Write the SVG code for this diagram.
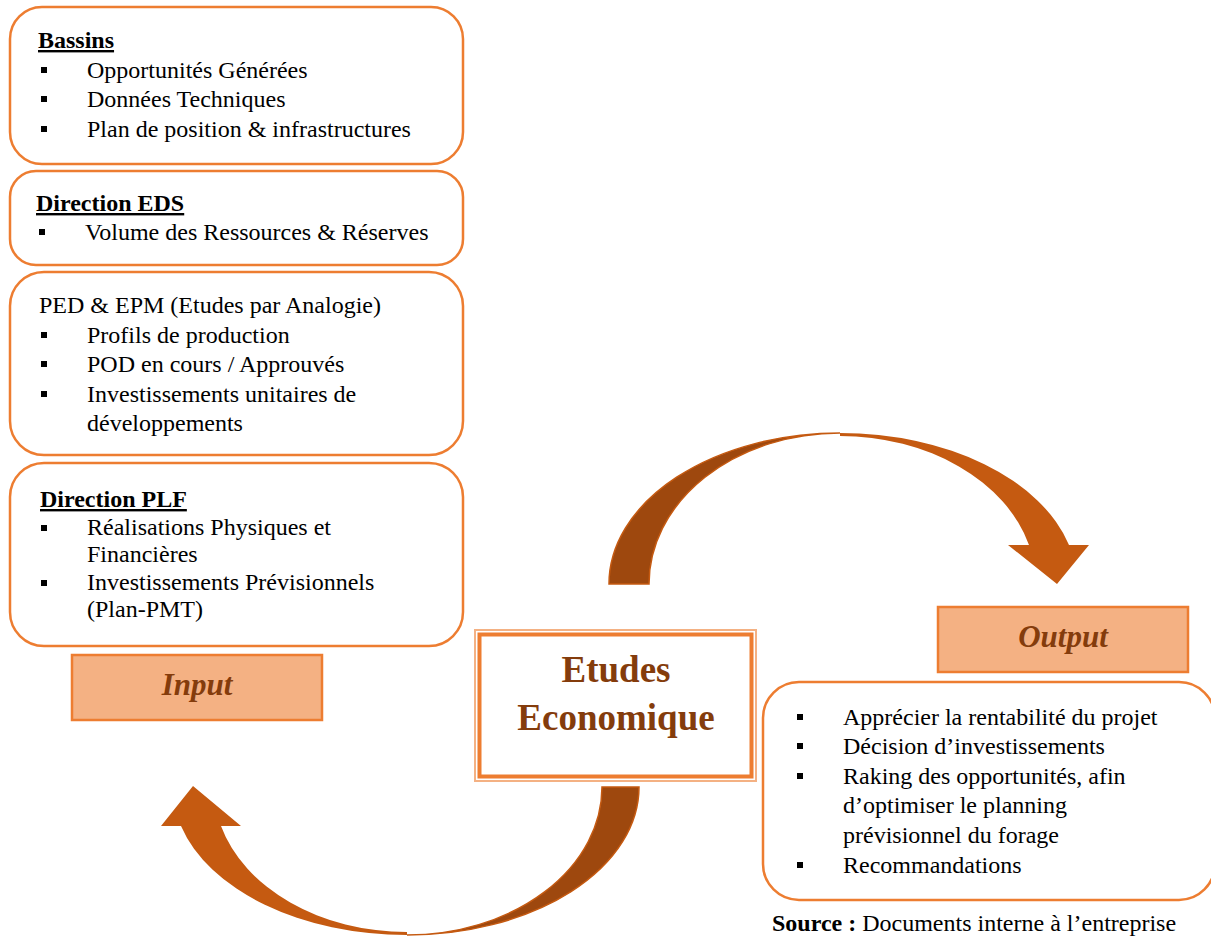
<svg xmlns="http://www.w3.org/2000/svg" width="1211" height="938" viewBox="0 0 1211 938">
<style>
.box{fill:#fff;stroke:#ED7D31;stroke-width:2.5}
.lbl{fill:#F4B183;stroke:#ED7D31;stroke-width:2.5}
.t{font-family:"Liberation Serif","Times New Roman",serif;font-size:24px;fill:#000}
.h{font-weight:bold;text-decoration:underline}
.b{fill:#000}
.io{font-family:"Liberation Serif","Times New Roman",serif;font-size:31px;font-weight:bold;font-style:italic;fill:#843C0C}
.ctr{font-family:"Liberation Serif","Times New Roman",serif;font-size:37px;font-weight:bold;fill:#843C0C}
.dark{fill:#9E480E;stroke:#C55A11;stroke-width:1.5}
.light{fill:#C55A11}
</style>
<rect width="1211" height="938" fill="#fff"/>
<g id="connectors">
<path class="dark" d="M609,584 A231,151 0 0 1 840,433 A191,151 0 0 0 649,584 Z"/>
<path class="light" d="M840,433 A237,151 0 0 1 1069,545 L1089,545 L1057,584 L1008,545 L1029,545 A196,148 0 0 0 840,436 Z"/>
<path class="dark" d="M639,787 A232,148 0 0 1 407,935 A195,148 0 0 0 602,787 Z"/>
<path class="light" d="M407,935 A234,148 0 0 1 181,826 L161,826 L193,786 L241,826 L221,826 A193,145 0 0 0 407,932 Z"/>
</g>
<g id="bassins">
<rect class="box" x="10" y="7" width="453" height="157" rx="32"/>
<text class="t h" x="38" y="48">Bassins</text>
<rect class="b" x="41" y="67" width="6" height="6"/>
<text class="t" x="87" y="78">Opportunités Générées</text>
<rect class="b" x="41" y="96" width="6" height="6"/>
<text class="t" x="87" y="107">Données Techniques</text>
<rect class="b" x="41" y="126" width="6" height="6"/>
<text class="t" x="87" y="137">Plan de position &amp; infrastructures</text>
</g>
<g id="eds">
<rect class="box" x="10" y="171" width="453" height="94" rx="26"/>
<text class="t h" x="36" y="211">Direction EDS</text>
<rect class="b" x="39" y="229" width="6" height="6"/>
<text class="t" x="85" y="240">Volume des Ressources &amp; Réserves</text>
</g>
<g id="ped">
<rect class="box" x="10" y="272" width="453" height="183" rx="34"/>
<text class="t" x="39" y="313">PED &amp; EPM (Etudes par Analogie)</text>
<rect class="b" x="41" y="332" width="6" height="6"/>
<text class="t" x="87" y="343">Profils de production</text>
<rect class="b" x="41" y="361" width="6" height="6"/>
<text class="t" x="87" y="372">POD en cours / Approuvés</text>
<rect class="b" x="41" y="391" width="6" height="6"/>
<text class="t" x="87" y="402">Investissements unitaires de</text>
<text class="t" x="87" y="431">développements</text>
</g>
<g id="plf">
<rect class="box" x="10" y="463" width="453" height="183" rx="34"/>
<text class="t h" x="40" y="507">Direction PLF</text>
<rect class="b" x="41" y="525" width="6" height="6"/>
<text class="t" x="87" y="535">Réalisations Physiques et</text>
<text class="t" x="87" y="562">Financières</text>
<rect class="b" x="41" y="580" width="6" height="6"/>
<text class="t" x="87" y="590">Investissements Prévisionnels</text>
<text class="t" x="87" y="617">(Plan-PMT)</text>
</g>
<g id="input">
<rect class="lbl" x="72" y="655" width="250" height="65"/>
<text class="io" x="197" y="695" text-anchor="middle">Input</text>
</g>
<g id="etudes">
<rect x="475" y="630" width="281" height="151" fill="#fff" stroke="#F4B183" stroke-width="2"/>
<rect x="479.5" y="634.5" width="272" height="142" fill="none" stroke="#ED7D31" stroke-width="4"/>
<text class="ctr" x="616" y="682" text-anchor="middle">Etudes</text>
<text class="ctr" x="616" y="730" text-anchor="middle">Economique</text>
</g>
<g id="output">
<rect class="lbl" x="938" y="607" width="250" height="65"/>
<text class="io" x="1063" y="647" text-anchor="middle">Output</text>
</g>
<g id="output-list">
<rect class="box" x="763" y="682" width="452" height="218" rx="36"/>
<rect class="b" x="797" y="714" width="6" height="6"/>
<text class="t" x="843" y="725">Apprécier la rentabilité du projet</text>
<rect class="b" x="797" y="743" width="6" height="6"/>
<text class="t" x="843" y="754">Décision d’investissements</text>
<rect class="b" x="797" y="773" width="6" height="6"/>
<text class="t" x="843" y="784">Raking des opportunités, afin</text>
<text class="t" x="843" y="813">d’optimiser le planning</text>
<text class="t" x="843" y="843">prévisionnel du forage</text>
<rect class="b" x="797" y="862" width="6" height="6"/>
<text class="t" x="843" y="873">Recommandations</text>
</g>
<g id="source">
<text class="t" x="772" y="931" font-size="22"><tspan font-weight="bold">Source :</tspan> Documents interne à l’entreprise</text>
</g>
</svg>
